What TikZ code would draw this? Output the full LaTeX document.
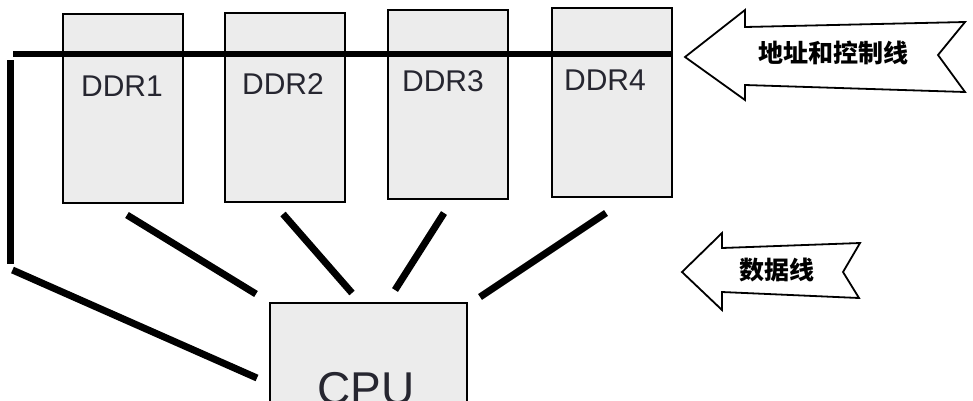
\documentclass[tikz,border=0pt]{standalone}
\usepackage{fontspec}
\setsansfont{Liberation Sans}
\newfontfamily\cjk{Noto Sans CJK SC}
\definecolor{boxgray}{RGB}{236,236,236}
\definecolor{labelgray}{RGB}{38,38,48}
\begin{document}
\begin{tikzpicture}[x=1pt,y=-1pt,
    ddrbox/.style={rectangle, draw=black, fill=boxgray, line width=2pt, minimum width=120pt, minimum height=189pt, inner sep=0pt},
    cpubox/.style={rectangle, draw=black, fill=boxgray, line width=2pt, minimum width=197pt, minimum height=114pt, inner sep=0pt},
    ddrtext/.style={font=\sffamily\fontsize{30}{36}\selectfont, text=labelgray, inner sep=0pt},
    cputext/.style={font=\sffamily\fontsize{46}{52}\selectfont, text=labelgray, inner sep=0pt, anchor=north},
    busline/.style={line width=6pt},
    dataline/.style={line width=7pt},
    bigarrow/.style={draw=black, fill=white, line width=1.8pt, line join=miter},
    arrowtext/.style={font=\cjk\bfseries\fontsize{25}{30}\selectfont, inner sep=0pt},
]
    \useasboundingbox (0,0) rectangle (973,400);
    \clip (0,0) rectangle (973,400);

    %Nodes
    \node[ddrbox] (ddr1) at (123,108.5) {};
    \node[ddrbox] (ddr2) at (284.5,107.5) {};
    \node[ddrbox] (ddr3) at (448,104.5) {};
    \node[ddrbox] (ddr4) at (611.5,102.5) {};
    \node[ddrtext] (lab1) at (122,86) {DDR1};
    \node[ddrtext] (lab2) at (283,84) {DDR2};
    \node[ddrtext] (lab3) at (443,81) {DDR3};
    \node[ddrtext] (lab4) at (605,80) {DDR4};
    \node[cpubox] (cpu) at (368.5,360) {};
    \node[cputext] (cpulab) at (366,372) {CPU};
    \coordinate (busL) at (13,54);
    \coordinate (ctltop) at (10.5,60);
    \coordinate (ctlbot) at (10.5,264);

    %Lines
    \draw[busline] (busL) -- (busL -| ddr4.east);
    \draw[dataline] (ctltop) -- (ctlbot);
    \draw[dataline] ([xshift=2pt,yshift=-6pt]ctlbot) -- ([xshift=-12pt,yshift=-18pt]cpu.west);
    \draw[dataline] ([xshift=4pt,yshift=-11pt]ddr1.south) -- ([xshift=-13pt,yshift=8pt]cpu.north west);
    \draw[dataline] ([xshift=-1.5pt,yshift=-11pt]ddr2.south) -- ([xshift=-16.5pt,yshift=9pt]cpu.north);
    \draw[dataline] ([xshift=-4pt,yshift=-13pt]ddr3.south) -- ([xshift=26.5pt,yshift=12pt]cpu.north);
    \draw[dataline] ([xshift=-5.5pt,yshift=-15pt]ddr4.south) -- ([xshift=12pt,yshift=5pt]cpu.north east);

    %Arrows
    \draw[bigarrow] (685,57) -- (745,10) -- (745,27) -- (965,22) -- (938,55) -- (965,92) -- (745,85) -- (745,100) -- cycle;
    \node[arrowtext] (addr) at (833,53) {地址和控制线};
    \draw[bigarrow] (682,272) -- (722,233) -- (722,248) -- (860,243) -- (843,272) -- (859,298) -- (722,292) -- (722,310) -- cycle;
    \node[arrowtext] (data) at (777,270) {数据线};
\end{tikzpicture}
\end{document}
